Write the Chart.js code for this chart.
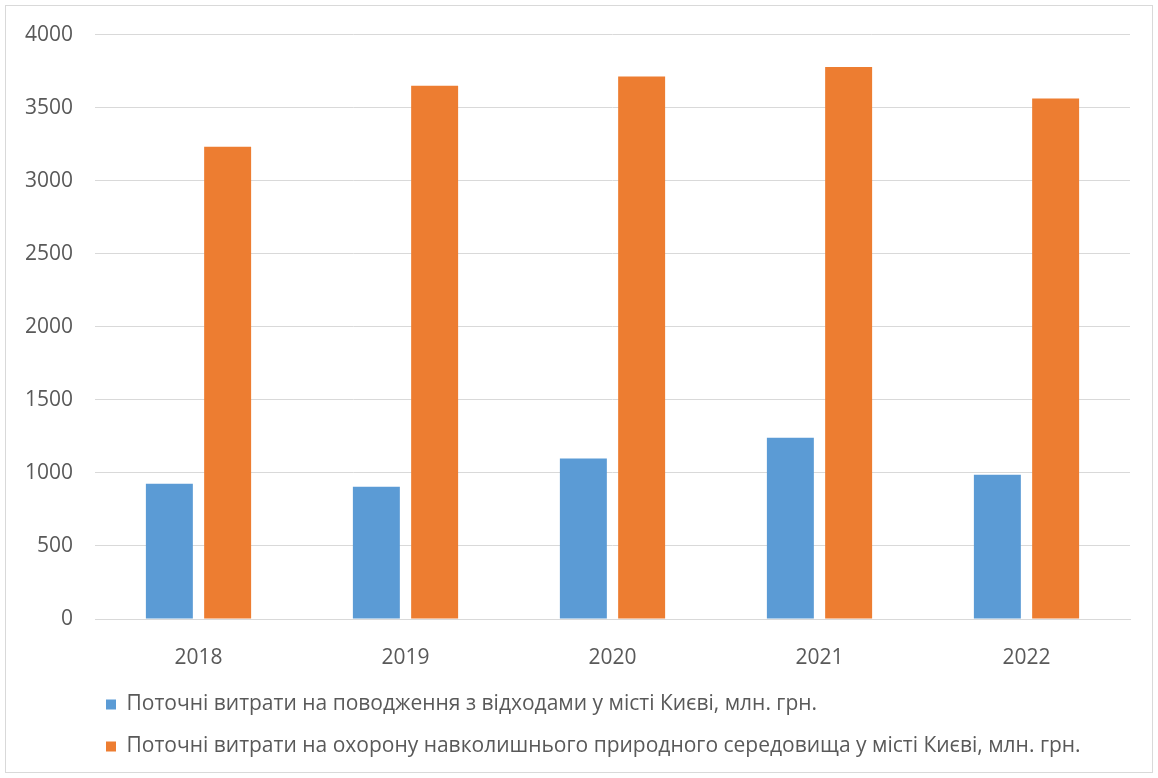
<!DOCTYPE html>
<html>
<head>
<meta charset="utf-8">
<script src="https://cdn.jsdelivr.net/npm/chart.js@4"></script>
<style>
  body { margin: 0; background: #fff; }
  #wrap { position: absolute; left: 0; top: 0; width: 1158px; height: 778px; }
  #frame { position: absolute; left: 5px; top: 5px; width: 1146px; height: 766px; border: 1px solid #d9d9d9; pointer-events: none; }
</style>
</head>
<body>
<div id="wrap"><canvas id="chart"></canvas></div>
<div id="frame"></div>
<script>
// data
var years = ["2018", "2019", "2020", "2021", "2022"];
var wasteCosts = [926, 906, 1098, 1240, 988];
var envCosts = [3232, 3650, 3714, 3778, 3563];
var wasteLabel = "Поточні витрати на поводження з відходами у місті Києві, млн. грн.";
var envLabel = "Поточні витрати на охорону навколишнього природного середовища у місті Києві, млн. грн.";

Chart.defaults.font.family = "'Open Sans', sans-serif";
Chart.defaults.font.size = 21;
Chart.defaults.color = "#595959";

// legend sits left-aligned under the plot, a bit left of the plot edge
var legendShift = {
    id: 'legendShift',
    afterLayout: function(chart) {
        var lg = chart.legend;
        var w = lg.right - lg.left;
        lg.left = 85;
        lg.right = 85 + w;
    }
};

var ctx = document.getElementById("chart");
var myChart = new Chart(ctx, {
    type: 'bar',
    data: {
        labels: years,
        datasets: [
            { label: wasteLabel, data: wasteCosts, backgroundColor: "#5B9BD5" },
            { label: envLabel, data: envCosts, backgroundColor: "#ED7D31" }
        ]
    },
    options: {
        responsive: true,
        maintainAspectRatio: false,
        animation: false,
        categoryPercentage: 0.563,
        barPercentage: 0.806,
        layout: { padding: { left: 0, right: 28, top: 34, bottom: 11 } },
        scales: {
            x: {
                grid: { display: false },
                border: { color: "#d9d9d9" },
                ticks: { padding: 18 },
                afterFit: function(scale) { scale.height = 54; }
            },
            y: {
                min: 0,
                max: 4000,
                ticks: {
                    stepSize: 500,
                    padding: 22,
                    callback: function(value) { return String(value); }
                },
                grid: { color: "#d9d9d9", drawTicks: false },
                border: { display: false },
                afterFit: function(scale) { scale.width = 95; }
            }
        },
        plugins: {
            legend: {
                position: 'bottom',
                align: 'start',
                labels: { boxWidth: 10, boxHeight: 10, padding: 21, color: "#595959" }
            },
            tooltip: { enabled: false }
        }
    },
    plugins: [legendShift]
});
</script>
</body>
</html>
